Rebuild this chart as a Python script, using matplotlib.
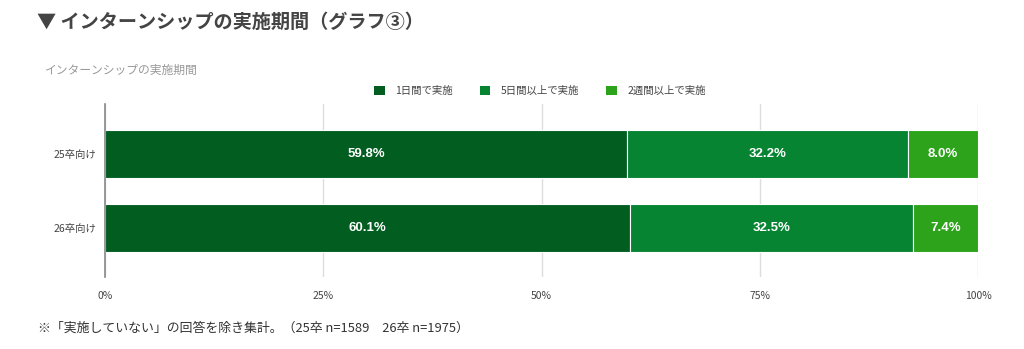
import matplotlib
matplotlib.use("Agg")
import matplotlib.pyplot as plt
from matplotlib.patches import Patch

plt.rcParams['font.family'] = ['Noto Sans CJK JP', 'DejaVu Sans']

categories = ["25卒向け", "26卒向け"]
series_names = ["1日間で実施", "5日間以上で実施", "2週間以上で実施"]
one_day = [59.8, 60.1]
five_days = [32.2, 32.5]
two_weeks = [8.0, 7.4]
series_values = [one_day, five_days, two_weeks]
colors = ["#025E20", "#068432", "#2CA31A"]
xtick_values = [0, 25, 50, 75, 100]
xtick_labels = ["0%", "25%", "50%", "75%", "100%"]

title = "▼ インターンシップの実施期間（グラフ③）"
chart_title = "インターンシップの実施期間"
footnote = "※「実施していない」の回答を除き集計。（25卒 n=1589　26卒 n=1975）"

fig = plt.figure(figsize=(10.24, 3.49), dpi=100)
ax = fig.add_axes([105/1024, 1 - 277/349, (978 - 105)/1024, (277 - 104)/349])

y = list(range(len(categories)))
left = [0.0] * len(categories)
for name, vals, col in zip(series_names, series_values, colors):
    ax.barh(y, vals, left=left, height=0.65, color=col, edgecolor="white",
            linewidth=0.8, label=name, zorder=3)
    for yi, v, l in zip(y, vals, left):
        ax.text(l + v / 2, yi, f"{v:.1f}%", ha="center", va="center",
                color="white", fontsize=9.5, fontweight="bold",
                family=["Liberation Sans", "DejaVu Sans"], zorder=4)
    left = [a + b for a, b in zip(left, vals)]

ax.set_xlim(0, 100)
ax.set_ylim(1.66, -0.67)
ax.set_xticks(xtick_values)
ax.set_xticklabels(xtick_labels, fontsize=7.5, color="#444444")
ax.set_yticks(y)
ax.set_yticklabels(categories, fontsize=7.5, color="#444444")
ax.tick_params(axis="both", length=0, pad=10)
ax.tick_params(axis="y", pad=6)
ax.xaxis.grid(True, color="#DDDDDD", linewidth=1, zorder=0)
ax.set_axisbelow(True)
for s in ["top", "right", "bottom"]:
    ax.spines[s].set_visible(False)
ax.spines["left"].set_color("#888888")
ax.spines["left"].set_linewidth(1.2)
ax.spines["left"].set_zorder(5)

fig.text(37/1024, 1 - 22/349, title, fontsize=13.8, fontweight="bold", color="#444444",
         ha="left", va="center")
fig.text(45/1024, 1 - 70/349, chart_title, fontsize=8.5, color="#999999",
         ha="left", va="center")
fig.text(38/1024, 1 - 328/349, footnote, fontsize=9.3, color="#333333",
         ha="left", va="center")

handles = [Patch(facecolor=c, edgecolor="none") for c in colors]
fig.legend(handles, series_names, loc="center", bbox_to_anchor=(540/1024, 1 - 91/349),
           ncol=3, frameon=False, fontsize=7.5, handlelength=1.0, handleheight=1.0,
           columnspacing=2.6, handletextpad=1.0, labelcolor="#444444")

fig.savefig("out.png", dpi=100)
